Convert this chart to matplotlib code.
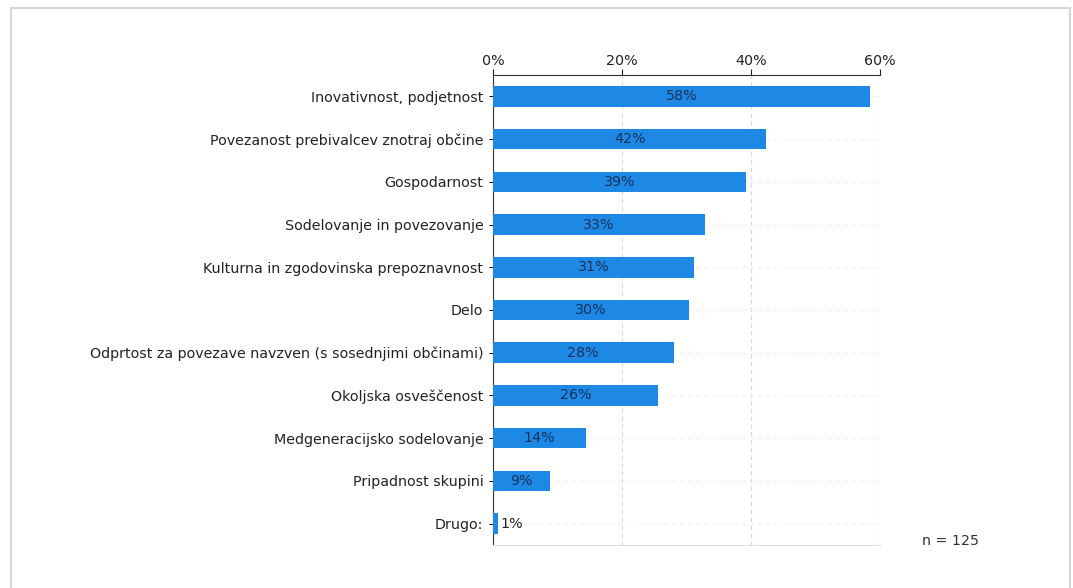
import matplotlib
matplotlib.use("Agg")
import matplotlib.pyplot as plt
from matplotlib.patches import Rectangle
from matplotlib.ticker import FuncFormatter

categories = [
    "Inovativnost, podjetnost",
    "Povezanost prebivalcev znotraj občine",
    "Gospodarnost",
    "Sodelovanje in povezovanje",
    "Kulturna in zgodovinska prepoznavnost",
    "Delo",
    "Odprtost za povezave navzven (s sosednjimi občinami)",
    "Okoljska osveščenost",
    "Medgeneracijsko sodelovanje",
    "Pripadnost skupini",
    "Drugo:",
]
values = [58.4, 42.4, 39.2, 32.8, 31.2, 30.4, 28.0, 25.6, 14.4, 8.8, 0.8]
labels = ["58%", "42%", "39%", "33%", "31%", "30%", "28%", "26%", "14%", "9%", "1%"]
ticks = [0, 20, 40, 60]
n_text = "n = 125"

W, H = 1073, 588
FS = 10.3
fig = plt.figure(figsize=(W / 100, H / 100), dpi=100)
fig.patch.set_facecolor("white")

# outer frame
fig.patches.append(Rectangle((11 / W, -0.05), (1070 - 11) / W, (H - 8) / H + 0.05,
                             transform=fig.transFigure, fill=False,
                             edgecolor="#d6d6d6", linewidth=1.5))

ax = fig.add_axes([493 / W, 1 - 545 / H, (880 - 493) / W, (545 - 75) / H])
ypos = list(range(len(categories)))
ax.barh(ypos, values, height=0.48, color="#1e88e5", zorder=3)
ax.set_xlim(0, 60)
ax.set_ylim(len(categories) - 0.5, -0.5)
ax.set_yticks(ypos)
ax.set_yticklabels(categories, fontsize=FS, color="#222222")
ax.set_xticks(ticks)
ax.xaxis.set_major_formatter(FuncFormatter(lambda v, p: f"{v:.0f}%"))
ax.xaxis.tick_top()
ax.tick_params(axis="x", labelsize=FS, colors="#222222", length=4, direction="out", pad=1)
ax.tick_params(axis="y", length=3, direction="out", pad=4)

ax.spines["right"].set_visible(False)
ax.spines["bottom"].set_color("#dddddd")
ax.spines["top"].set_color("#333333")
ax.spines["left"].set_color("#333333")

ax.grid(axis="x", color="#d8d8d8", linestyle=(0, (4, 3)), linewidth=0.8, zorder=0)
ax.grid(axis="y", color="#eeeeee", linestyle=(0, (4, 3)), linewidth=0.8, zorder=0)

for y, v, lab in zip(ypos, values, labels):
    if v < 4:
        ax.text(v + 0.4, y, lab, ha="left", va="center", fontsize=FS, color="#222222", zorder=4)
    else:
        ax.text(v / 2, y, lab, ha="center", va="center", fontsize=FS, color="#14325a", zorder=4)

fig.text(922 / W, 1 - 541 / H, n_text, fontsize=FS, color="#333333", ha="left", va="center")

fig.savefig("out.png", dpi=100)
